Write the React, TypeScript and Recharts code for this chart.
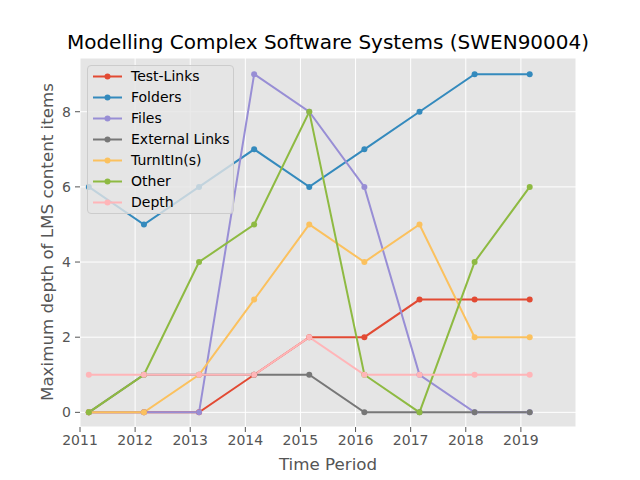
import React from 'react';
import { LineChart, Line, XAxis, YAxis, CartesianGrid } from 'recharts';

const periods = [2011.16, 2012.16, 2013.16, 2014.16, 2015.16, 2016.16, 2017.16, 2018.16, 2019.16];
const testLinks = [0, 0, 0, 1, 2, 2, 3, 3, 3];
const folders = [6, 5, 6, 7, 6, 7, 8, 9, 9];
const files = [0, 0, 0, 9, 8, 6, 1, 0, 0];
const externalLinks = [0, 1, 1, 1, 1, 0, 0, 0, 0];
const turnItIn = [0, 0, 1, 3, 5, 4, 5, 2, 2];
const other = [0, 1, 4, 5, 8, 1, 0, 4, 6];
const depth = [1, 1, 1, 1, 2, 1, 1, 1, 1];

const xTicks = [2011, 2012, 2013, 2014, 2015, 2016, 2017, 2018, 2019];
const yTicks = [0, 2, 4, 6, 8];

const series = [
  { key: 'testLinks', name: 'Test-Links', color: '#E24A33', values: testLinks },
  { key: 'folders', name: 'Folders', color: '#348ABD', values: folders },
  { key: 'files', name: 'Files', color: '#988ED5', values: files },
  { key: 'externalLinks', name: 'External Links', color: '#777777', values: externalLinks },
  { key: 'turnItIn', name: 'TurnItIn(s)', color: '#FBC15E', values: turnItIn },
  { key: 'other', name: 'Other', color: '#8EBA42', values: other },
  { key: 'depth', name: 'Depth', color: '#FFB5B8', values: depth },
];

const data = periods.map((x, i) => {
  const row: Record<string, number> = { x };
  series.forEach((s) => {
    row[s.key] = s.values[i];
  });
  return row;
});

const FONT = '"DejaVu Sans", sans-serif';

export default function App() {
  return (
    <div style={{ position: 'absolute', left: 0, top: 0, width: 640, height: 480, background: '#fff', fontFamily: FONT }}>
      <LineChart width={640} height={480} data={data} margin={{ top: 58, right: 64, bottom: 0, left: 0 }}>
        <CartesianGrid fill="#E5E5E5" stroke="#FFFFFF" strokeWidth={1} />
        <XAxis
          dataKey="x"
          type="number"
          domain={[2011, 2020]}
          ticks={xTicks}
          allowDataOverflow
          height={53}
          axisLine={false}
          tickLine={{ stroke: '#555555' }}
          tickSize={5}
          tickMargin={3}
          tick={{ fill: '#555555', fontSize: 14, fontFamily: FONT }}
          interval={0}
        />
        <YAxis
          type="number"
          domain={[-0.39, 9.43]}
          ticks={yTicks}
          allowDataOverflow
          width={80}
          axisLine={false}
          tickLine={{ stroke: '#555555' }}
          tickSize={5}
          tickMargin={4}
          tick={{ fill: '#555555', fontSize: 14, fontFamily: FONT }}
          interval={0}
        />
        {series.map((s) => (
          <Line
            key={s.key}
            dataKey={s.key}
            name={s.name}
            stroke={s.color}
            strokeWidth={2}
            dot={{ r: 3, fill: s.color, stroke: s.color, strokeWidth: 0 }}
            activeDot={false}
            isAnimationActive={false}
            type="linear"
          />
        ))}
      </LineChart>

      <div style={{ position: 'absolute', left: 0, width: 656, top: 31, textAlign: 'center', fontSize: 20, lineHeight: '22px', color: '#000' }}>
        Modelling Complex Software Systems (SWEN90004)
      </div>
      <div style={{ position: 'absolute', left: 0, width: 656, top: 455, textAlign: 'center', fontSize: 16.7, lineHeight: '18px', color: '#555555' }}>
        Time Period
      </div>
      <div
        style={{
          position: 'absolute',
          left: 47 - 200,
          top: 242 - 9,
          width: 400,
          height: 18,
          textAlign: 'center',
          fontSize: 16.7,
          lineHeight: '18px',
          color: '#555555',
          transform: 'rotate(-90deg)',
          transformOrigin: '50% 50%',
        }}
      >
        Maximum depth of LMS content items
      </div>

      <div
        style={{
          position: 'absolute',
          left: 87,
          top: 65,
          width: 147,
          height: 149,
          background: 'rgba(229,229,229,0.8)',
          border: '1px solid #CCCCCC',
          borderRadius: 4,
          boxSizing: 'border-box',
        }}
      >
        {series.map((s, i) => (
          <div key={s.key} style={{ position: 'absolute', left: 0, top: i * 21.07, height: 21, width: 147 }}>
            <svg width={40} height={21} style={{ position: 'absolute', left: 0, top: 0 }}>
              <line x1={5} x2={34} y1={10.5} y2={10.5} stroke={s.color} strokeWidth={2} />
              <circle cx={19.5} cy={10.5} r={3} fill={s.color} />
            </svg>
            <div style={{ position: 'absolute', left: 43, top: 0, fontSize: 14, lineHeight: '21px', color: '#000', whiteSpace: 'nowrap' }}>
              {s.name}
            </div>
          </div>
        ))}
      </div>
    </div>
  );
}
